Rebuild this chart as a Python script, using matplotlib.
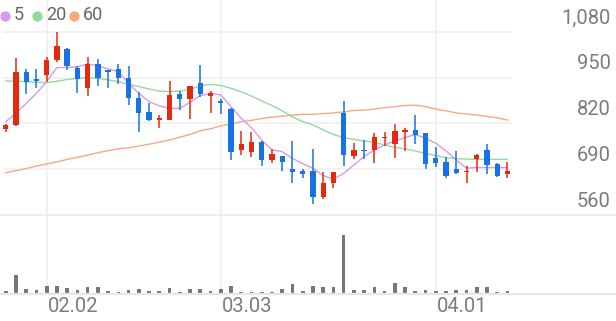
import numpy as np
import matplotlib
matplotlib.use("Agg")
import matplotlib.pyplot as plt

plt.rcParams['font.family'] = ['Roboto', 'DejaVu Sans']

# daily candles, 2026-01-27 .. 2026-04-10
opens = [804, 816, 967, 946, 958, 1000, 1032, 977, 920, 988,
         971, 975, 950, 893, 852, 830, 830, 903, 890, 936,
         899, 883, 862, 745, 738, 768, 717, 729, 691, 685,
         686, 610, 650, 850, 729, 745, 745, 778, 761, 797,
         801, 792, 721, 712, 690, 681, 719, 744, 706, 677]
highs = [818, 1007, 974, 974, 1008, 1079, 1035, 982, 1010, 1002,
         973, 988, 984, 909, 877, 844, 942, 912, 927, 986,
         913, 890, 863, 799, 795, 769, 748, 729, 769, 691,
         748, 683, 683, 883, 765, 774, 793, 795, 818, 808,
         844, 793, 754, 726, 742, 700, 733, 762, 707, 712]
lows = [795, 814, 904, 922, 939, 996, 972, 906, 899, 927,
        922, 931, 873, 797, 827, 808, 830, 857, 833, 896,
        851, 848, 716, 730, 724, 700, 707, 686, 651, 666,
        591, 605, 636, 700, 718, 718, 708, 756, 721, 742,
        761, 691, 696, 666, 677, 650, 683, 677, 669, 664]
closes = [816, 965, 939, 940, 1001, 1041, 984, 946, 990, 948,
          965, 948, 893, 849, 831, 836, 901, 890, 926, 903,
          908, 879, 739, 761, 768, 717, 734, 711, 683, 677,
          612, 652, 681, 730, 746, 741, 781, 782, 799, 801,
          787, 704, 709, 672, 679, 685, 731, 702, 672, 684]

ma5 = [825, 849, 877, 906, 939, 979, 979, 981, 989, 984,
       975, 967, 934, 906, 882, 870, 863, 863, 880, 899,
       906, 901, 868, 835, 808, 773, 745, 740, 721, 706,
       693, 672, 662, 678, 702, 726, 745, 759, 770, 780,
       789, 778, 764, 742, 716, 693, 695, 695, 695, 695]
ma20 = [941, 940, 939, 937, 936, 940, 945, 948, 950, 948,
        944, 939, 931, 925, 918, 912, 911, 912, 917, 927,
        931, 928, 920, 910, 898, 884, 871, 856, 839, 825,
        816, 802, 789, 780, 775, 770, 767, 759, 752, 748,
        742, 735, 729, 723, 720, 719, 718, 718, 718, 718]
ma60 = [680, 686, 692, 699, 705, 711, 718, 724, 730, 737,
        743, 748, 751, 756, 761, 767, 773, 781, 789, 799,
        805, 813, 819, 825, 829, 834, 838, 841, 844, 846,
        846, 848, 850, 853, 857, 858, 861, 865, 868, 871,
        872, 868, 861, 856, 850, 847, 844, 840, 836, 830]

# volume (thousand shares)
volume = [50, 550, 130, 100, 220, 200, 150, 100, 180, 180,
          60, 40, 100, 130, 70, 60, 140, 40, 130, 130,
          60, 110, 220, 40, 40, 40, 40, 120, 270, 60,
          200, 170, 170, 1730, 100, 90, 190, 60, 290, 170,
          70, 80, 70, 60, 90, 100, 170, 190, 40, 60]

date_idx = [4, 21, 42]
date_labels = ["02.02", "03.03", "04.01"]
price_ticks = [560, 690, 820, 950, 1080]
ma_names = ["5", "20", "60"]

UP = '#e5290e'
DOWN = '#1673e6'
MA_COLORS = ['#d999ee', '#93d9a0', '#f9a882']
GRID = '#f0f0f0'
TXT = '#7c7c7c'

W, H = 616, 321
fig = plt.figure(figsize=(W / 100, H / 100), dpi=100)

def px_rect(x0, y0, x1, y1):
    return [x0 / W, 1 - y1 / H, (x1 - x0) / W, (y1 - y0) / H]

x = np.arange(len(closes))
xmin, xmax = -0.264, 49.44

ax = fig.add_axes(px_rect(3, 0, 512, 215))
axv = fig.add_axes(px_rect(3, 215, 512, 293))

for a in (ax, axv):
    a.set_xlim(xmin, xmax)
    for s in a.spines.values():
        s.set_visible(False)
    a.set_xticks([])
    a.set_yticks([])
    for d in date_idx:
        a.axvline(d, color=GRID, lw=1.2, zorder=0)

ax.set_ylim(560, 1170.9)
for t in price_ticks[1:]:
    ax.axhline(t, color=GRID, lw=1.2, zorder=0)

# MAs
for vals, c in zip([ma60, ma20, ma5], MA_COLORS[::-1]):
    ax.plot(x, vals, color=c, lw=1.0, zorder=2)

# candles
o = np.array(opens)
c = np.array(closes)
up = c >= o
colors = np.where(up, UP, DOWN)
body_lo = np.minimum(o, c)
body_h = np.maximum(np.abs(c - o), 3)
ax.vlines(x, lows, highs, colors=colors, lw=1.1, zorder=3)
ax.bar(x, body_h, bottom=body_lo, width=0.52, color=colors, zorder=4)

for t in price_ticks:
    ax.annotate(f"{t:,}", xy=(1, t), xycoords=('axes fraction', 'data'),
                xytext=(71, 10), textcoords='offset points',
                ha='right', va='center', fontsize=14.5, color=TXT,
                annotation_clip=False)

# volume
axv.set_ylim(0, 2340)
axv.bar(x, volume, width=0.36, color='#777777', zorder=2)
for d, lab in zip(date_idx, date_labels):
    axv.annotate(lab, xy=(d, 0), xycoords=('data', 'axes fraction'),
                 xytext=(1, -10), textcoords='offset points',
                 ha='left', va='center', fontsize=14.5, color=TXT,
                 annotation_clip=False)

# overlay: full width lines and legend
ov = fig.add_axes([0, 0, 1, 1])
ov.set_xlim(0, W)
ov.set_ylim(H, 0)
ov.axis('off')
ov.patch.set_alpha(0)
ov.plot([0, W], [215, 215], color='#eeeeee', lw=1.4)
ov.plot([0, W], [294, 294], color='#e6e6e6', lw=1.6)

lx = [5, 37, 74]
for px, name, col in zip(lx, ma_names, MA_COLORS):
    ov.plot(px, 15.5, 'o', ms=7.4, color=col, mec='none')
    ov.text(px + 9, 15.5, name, fontsize=13, color='#666666', va='center', ha='left')

fig.savefig("out.png", dpi=100)
